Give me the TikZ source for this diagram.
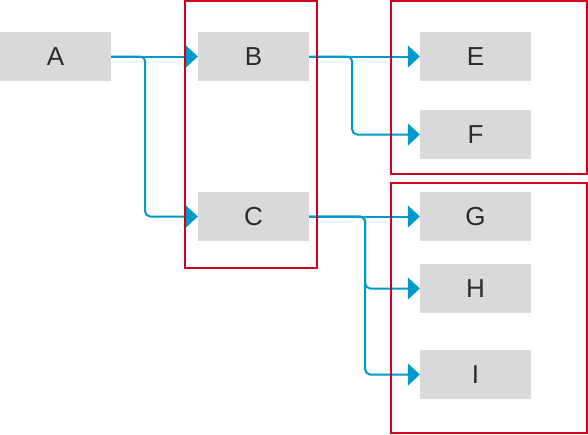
\documentclass[tikz,border=0pt]{standalone}
\usepackage{fontspec}
\setmainfont{Liberation Sans}
\usetikzlibrary{arrows.meta}
\definecolor{boxgray}{HTML}{D9D9D9}
\definecolor{linkblue}{HTML}{0099CC}
\definecolor{framered}{HTML}{D0021B}
\definecolor{txt}{HTML}{2B2B2B}
\tikzset{
  item/.style={fill=boxgray, draw=none, minimum width=111pt, minimum height=49pt, inner sep=0pt, text=txt, font=\fontsize{26}{30}\selectfont},
  conn/.style={draw=linkblue, line width=2pt, rounded corners=5pt, -{Triangle[length=12pt,width=22pt]}},
  frame/.style={draw=framered, line width=2pt}
}
\begin{document}
\begin{tikzpicture}[x=1pt,y=-1pt]
\useasboundingbox (0,0) rectangle (588,434);
\fill[white] (0,0) rectangle (588,434);
\node[item] (A) at (55.5,56.5) {A};
\node[item] (B) at (253.5,56.5) {B};
\node[item] (C) at (253.5,216.5) {C};
\node[item] (E) at (475.5,56.5) {E};
\node[item] (F) at (475.5,134.5) {F};
\node[item] (G) at (475.5,216.5) {G};
\node[item] (H) at (475.5,288.5) {H};
\node[item] (I) at (475.5,374.5) {I};
\draw[conn] (A.east) -- (B.west);
\draw[conn] (A.east) -- ([xshift=34pt]A.east) |- (C.west);
\draw[conn] (B.east) -- (E.west);
\draw[conn] (B.east) -- ([xshift=43pt]B.east) |- (F.west);
\draw[conn] (C.east) -- (G.west);
\draw[conn] (C.east) -- ([xshift=56pt]C.east) |- (H.west);
\draw[conn] (C.east) -- ([xshift=56pt]C.east) |- (I.west);
\draw[frame] (185,1) rectangle (317,268);
\draw[frame] (391,1) rectangle (587,174);
\draw[frame] (391,183) rectangle (587,433);
\end{tikzpicture}
\end{document}
